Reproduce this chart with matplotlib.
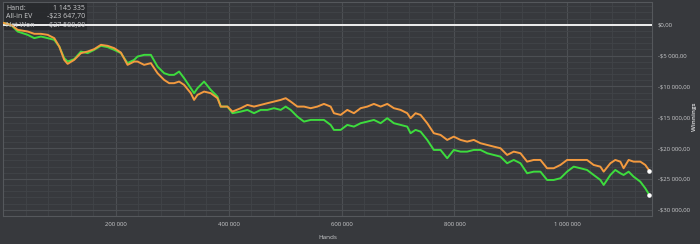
import matplotlib
matplotlib.use("Agg")
import matplotlib.pyplot as plt
from matplotlib.ticker import MultipleLocator, FixedLocator, FuncFormatter
from matplotlib.patches import Rectangle

# ---- data ----
hands = [0, 14160, 26000, 43700, 55400, 67300, 79100, 90800, 99700, 108500,
         114500, 126200, 138100, 149900, 161600, 173500, 185300, 197000, 208900, 220700,
         232400, 238400, 250100, 262000, 273800, 285500, 294400, 303200, 312100, 320900,
         332800, 338600, 344600, 356300, 368200, 380000, 385900, 397700, 406600, 421300,
         433100, 444800, 456700, 468500, 480200, 492100, 500900, 509800, 521600, 533300,
         545200, 557000, 568700, 580600, 586400, 598300, 610100, 621800, 633700, 645500,
         657200, 669100, 680900, 692600, 704500, 716300, 722200, 731000, 739900, 751700,
         763400, 775300, 787100, 798800, 810700, 822500, 834200, 846100, 857900, 869600,
         881500, 893300, 905000, 916900, 928700, 940400, 952300, 964100, 975800, 987700,
         999500, 1011200, 1023100, 1034900, 1046600, 1058500, 1064400, 1076200, 1085000, 1093900,
         1099700, 1108600, 1117400, 1129300, 1138100, 1145335]

net_won = [325, 0, -1087, -1623, -2159, -1899, -2159, -2435, -3522, -5405,
           -5956, -5567, -4333, -4593, -4058, -3408, -3619, -4058, -4593, -6216,
           -5681, -5145, -4869, -4869, -6768, -7839, -8115, -8115, -7579, -8651,
           -10274, -11085, -10274, -9202, -10550, -11637, -13260, -13260, -14331, -14071,
           -13796, -14331, -13796, -13796, -13519, -13796, -13260, -13796, -14883, -15694,
           -15419, -15419, -15419, -16230, -17042, -17042, -16230, -16506, -15954, -15694,
           -15419, -15954, -15143, -15954, -16230, -16506, -17577, -17042, -17318, -18665,
           -20288, -20288, -21635, -20288, -20564, -20564, -20288, -20288, -20823, -21099,
           -21375, -22446, -21911, -22446, -24069, -23809, -23809, -25157, -25157, -24880,
           -23809, -22998, -23257, -23534, -24345, -25157, -25968, -24345, -23534, -24069,
           -24345, -23809, -24621, -25433, -26504, -27588]

all_in_ev = [325, 0, -812, -1087, -1461, -1461, -1623, -2159, -3522, -5681,
             -6330, -5681, -4593, -4333, -3944, -3246, -3408, -3782, -4496, -6492,
             -5956, -5956, -6492, -6216, -7839, -8927, -9462, -9462, -9202, -9738,
             -11085, -12172, -11361, -10825, -11085, -11896, -13260, -13260, -14071, -13519,
             -12984, -13260, -12984, -12708, -12448, -12172, -11896, -12448, -13260, -13260,
             -13519, -13260, -12822, -13260, -14331, -14607, -13796, -14331, -13519, -13260,
             -12822, -13260, -12822, -13519, -13796, -14331, -15143, -14331, -14607, -15954,
             -17577, -17853, -18665, -18129, -18665, -18940, -18665, -19200, -19476, -19752,
             -20012, -21099, -20564, -20823, -22186, -21911, -21911, -23257, -23257, -22722,
             -21911, -21911, -21911, -21911, -22722, -22998, -23809, -22446, -21911, -22186,
             -23257, -21911, -22186, -22186, -22722, -23648]

x_ticks = [200000, 400000, 600000, 800000, 1000000]
y_ticks = [0, -5000, -10000, -15000, -20000, -25000, -30000]
tooltip_rows = [("Hand:", "1 145 335"), ("All-in EV", "-$23 647,70"), ("Net Won", "-$27 588,09")]

BG = "#37393d"
TXT = "#c9cacc"
plt.rcParams['font.family'] = ['Open Sans', 'DejaVu Sans']

fig = plt.figure(figsize=(7.0, 2.44), dpi=100, facecolor=BG)
ax = fig.add_axes([3/700, 1-216/244, 649/700, 214/244])
ax.set_facecolor(BG)

ax.set_xlim(0, 1150000)
ax.set_ylim(-31000, 3700)

ax.xaxis.set_major_locator(FixedLocator(x_ticks))
ax.xaxis.set_minor_locator(MultipleLocator(40000))
ax.yaxis.set_major_locator(FixedLocator(y_ticks))
ax.yaxis.set_minor_locator(MultipleLocator(1000))
ax.grid(which='major', color='#4c4f53', linewidth=0.8)
ax.grid(which='minor', color='#414448', linewidth=0.6)
ax.set_axisbelow(True)

def money(v, pos=None):
    s = f"{abs(v):,.2f}".replace(",", " ").replace(".", ",")
    return ("-$" if v < 0 else "$") + s

def hands_fmt(v, pos=None):
    return f"{int(v):,}".replace(",", " ")

ax.yaxis.set_major_formatter(FuncFormatter(money))
ax.xaxis.set_major_formatter(FuncFormatter(hands_fmt))
ax.yaxis.tick_right()
ax.tick_params(which='both', length=0, colors=TXT, labelsize=4.3)
ax.tick_params(axis='y', pad=4)
ax.tick_params(axis='x', pad=4)

for sp in ax.spines.values():
    sp.set_color('#55585c')
    sp.set_linewidth(0.8)

ax.axhline(0, color='#eeeeee', linewidth=1.4, zorder=3)

ax.plot(hands, net_won, color='#3ddc3d', linewidth=1.4, zorder=4)
ax.plot(hands, all_in_ev, color='#f39a3f', linewidth=1.4, zorder=4)
ax.scatter([hands[-1], hands[-1]], [net_won[-1], all_in_ev[-1]], s=5, color='white', zorder=6)

ax.set_xlabel("Hands", color=TXT, fontsize=4.6, labelpad=6)
fig.text(694.5/700, 1-117/244, "Winnings", color=TXT, fontsize=4.4, fontweight='bold',
         rotation=90, ha='center', va='center')

# tooltip box (drawn beneath the zero line, as in the reference)
ax.add_patch(Rectangle((3/700, 1-30/244), 84/700, 28/244, transform=fig.transFigure,
                       facecolor='#26282b', alpha=0.85, edgecolor='none', zorder=2.5,
                       clip_on=False))
for i, (lab, val) in enumerate(tooltip_rows):
    yy = 1 - (8.5 + i*8.3)/244
    fig.text(6/700, yy, lab, color=TXT, fontsize=5.0, va='center', ha='left', zorder=7)
    fig.text(85/700, yy, val, color=TXT, fontsize=5.0, va='center', ha='right', zorder=7)

fig.savefig("out.png", dpi=100, facecolor=BG)
